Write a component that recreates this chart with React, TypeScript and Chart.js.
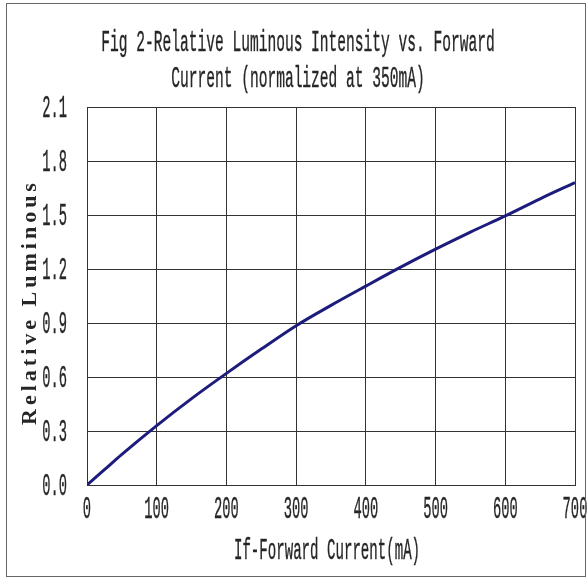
import React, { useEffect, useRef } from 'react';
import { Chart, registerables } from 'chart.js';
Chart.register(...registerables);

const currentMA = [0, 25, 50, 100, 150, 200, 250, 300, 350, 400, 450, 500, 550, 600, 650, 700];
const relativeLuminous = [0, 0.085, 0.17, 0.33, 0.48, 0.62, 0.755, 0.885, 0.998, 1.105, 1.21, 1.31, 1.405, 1.495, 1.59, 1.68];
const xTickValues = [0, 100, 200, 300, 400, 500, 600, 700];
const yTickValues = [0, 0.3, 0.6, 0.9, 1.2, 1.5, 1.8, 2.1];
const titleLines = ['Fig 2-Relative Luminous Intensity vs. Forward', 'Current (normalized at 350mA)'];
const yTitle = 'Relative Luminous';
const xTitle = 'If-Forward Current(mA)';

const MONO = "'Liberation Mono', 'DejaVu Sans Mono', monospace";
const TEXT = '#262626';
const GRID = '#333';

function squashed(
  ctx: CanvasRenderingContext2D,
  text: string,
  x: number,
  y: number,
  size: number,
  sx: number,
  align: CanvasTextAlign
) {
  ctx.save();
  ctx.translate(x, y);
  ctx.scale(sx, 1);
  ctx.font = `${size}px ${MONO}`;
  ctx.textAlign = align;
  ctx.textBaseline = 'alphabetic';
  ctx.fillStyle = TEXT;
  ctx.strokeStyle = TEXT;
  ctx.lineWidth = 0.4;
  ctx.fillText(text, 0, 0);
  ctx.strokeText(text, 0, 0);
  ctx.restore();
}

const textPlugin = {
  id: 'figText',
  afterDraw(chart: any) {
    const ctx = chart.ctx as CanvasRenderingContext2D;
    const area = chart.chartArea;
    const xs = chart.scales.x;
    const ys = chart.scales.y;
    const cx = chart.width / 2 + 4;
    // main title
    squashed(ctx, titleLines[0], cx, 51, 30, 0.486, 'center');
    squashed(ctx, titleLines[1], cx, 87, 30, 0.486, 'center');
    // x tick labels
    xTickValues.forEach((v) => {
      squashed(ctx, String(v), xs.getPixelForValue(v), area.bottom + 33, 32, 0.43, 'center');
    });
    // y tick labels
    yTickValues.forEach((v) => {
      squashed(ctx, v.toFixed(1), area.left - 20, ys.getPixelForValue(v) + 10, 32, 0.43, 'right');
    });
    // x title
    squashed(ctx, xTitle, (area.left + area.right) / 2 - 4, area.bottom + 74, 30, 0.47, 'center');
    // y title
    ctx.save();
    const cy = (area.top + area.bottom) / 2 + 6;
    ctx.translate(30, cy);
    ctx.rotate(-Math.PI / 2);
    ctx.font = 'bold 22px "Liberation Serif", serif';
    ctx.textAlign = 'center';
    ctx.textBaseline = 'middle';
    ctx.fillStyle = TEXT;
    (ctx as any).letterSpacing = '4px';
    ctx.fillText(yTitle, 0, 0);
    ctx.restore();
  },
};

export default function App() {
  const ref = useRef<HTMLCanvasElement>(null);
  useEffect(() => {
    if (!ref.current) return;
    const chart = new Chart(ref.current, {
      type: 'line',
      data: {
        datasets: [
          {
            data: currentMA.map((x, i) => ({ x, y: relativeLuminous[i] })),
            borderColor: '#1c1c7c',
            borderWidth: 3,
            pointRadius: 0,
            cubicInterpolationMode: 'monotone',
            fill: false,
          },
        ],
      },
      options: {
        animation: false,
        responsive: false,
        layout: { padding: { top: 107, left: 0, right: 13, bottom: 0 } },
        plugins: { legend: { display: false }, tooltip: { enabled: false }, title: { display: false } },
        scales: {
          x: {
            type: 'linear',
            min: 0,
            max: 700,
            afterBuildTicks: (s: any) => {
              s.ticks = xTickValues.map((v) => ({ value: v }));
            },
            afterFit: (s: any) => {
              s.height = 96;
              s.paddingLeft = 0;
              s.paddingRight = 0;
            },
            grid: { color: GRID, lineWidth: 1, drawTicks: false },
            border: { color: GRID, width: 1 },
            ticks: { display: false },
          },
          y: {
            type: 'linear',
            min: 0,
            max: 2.1,
            afterBuildTicks: (s: any) => {
              s.ticks = yTickValues.map((v) => ({ value: v }));
            },
            afterFit: (s: any) => {
              s.width = 87;
              s.paddingTop = 0;
              s.paddingBottom = 0;
            },
            grid: { color: GRID, lineWidth: 1, drawTicks: false },
            border: { color: GRID, width: 1 },
            ticks: { display: false },
          },
        },
      },
      plugins: [textPlugin],
    } as any);
    return () => chart.destroy();
  }, []);
  return (
    <div style={{ position: 'absolute', left: 0, top: 0, width: 588, height: 581, background: '#fff' }}>
      <canvas ref={ref} width={588} height={581} style={{ position: 'absolute', left: 0, top: 0 }} />
      <div
        style={{
          position: 'absolute',
          left: 6,
          top: 3,
          width: 580,
          height: 574,
          border: '1.5px solid #666',
          boxSizing: 'border-box',
          pointerEvents: 'none',
        }}
      />
    </div>
  );
}
